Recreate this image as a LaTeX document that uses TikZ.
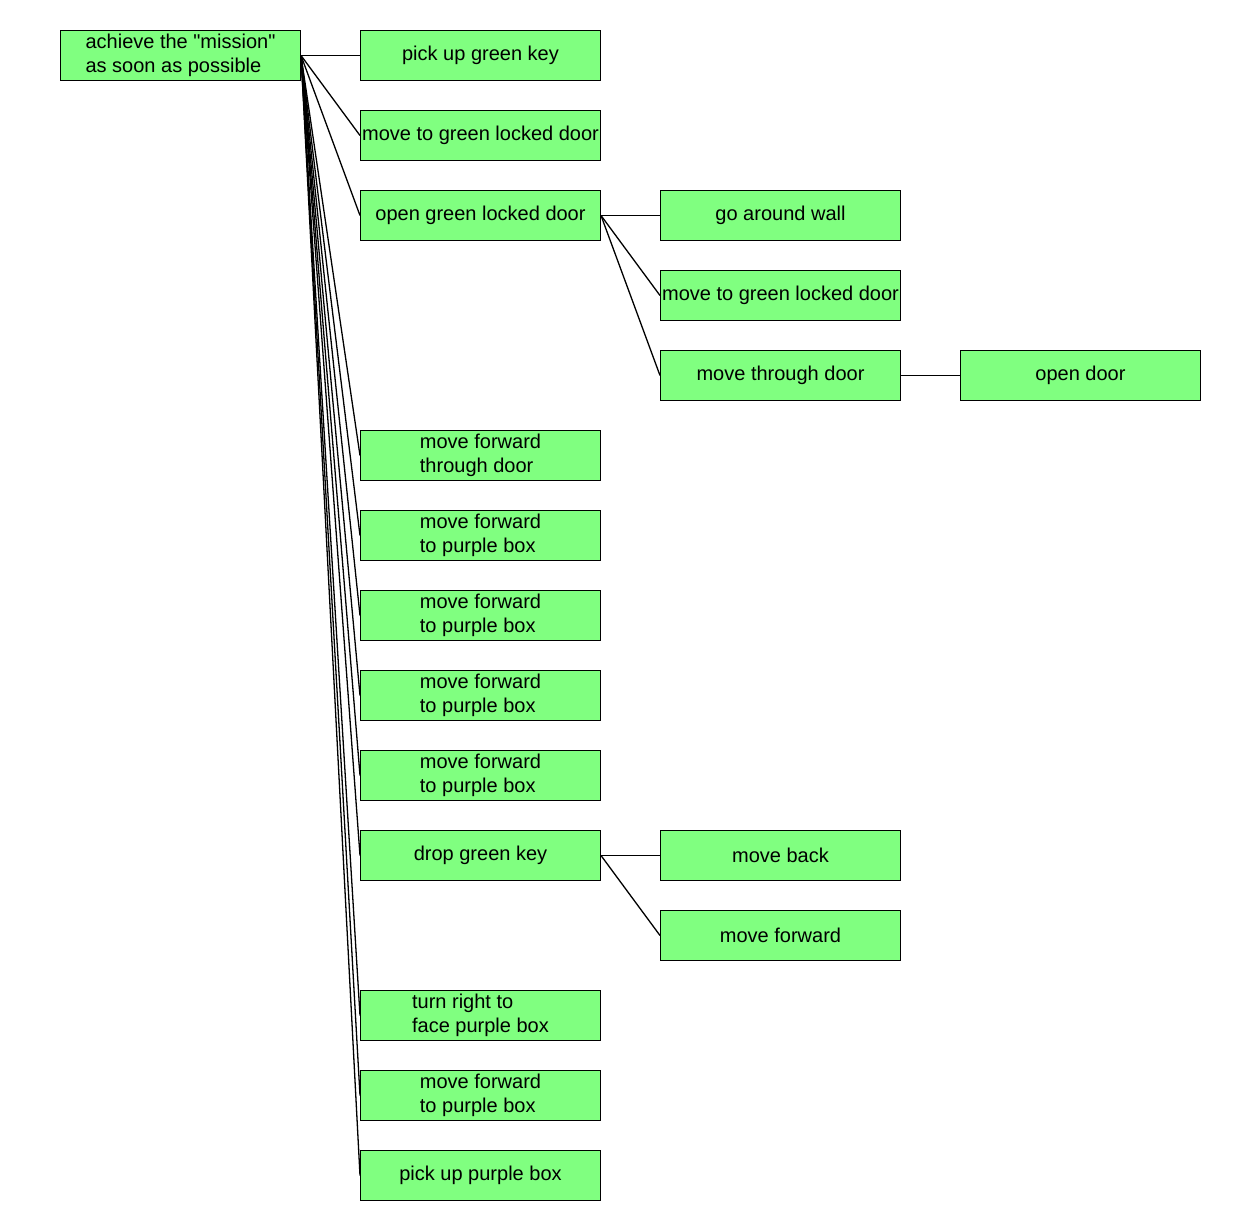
\documentclass[tikz,border=0pt]{standalone}
\usepackage{fontspec}
\setmainfont{Liberation Sans}[Ligatures=TeXOff]
\begin{document}
\begin{tikzpicture}[x=1pt,y=-1pt,
  task/.style={draw=black,line width=1pt,fill=taskgreen,minimum width=240pt,minimum height=50pt,
    inner sep=0pt,anchor=north west,align=left,font=\fontsize{20}{24}\selectfont},
  link/.style={draw=black,line width=1.3pt}]
\definecolor{taskgreen}{HTML}{80FF80}
\useasboundingbox (0,0) rectangle (1260,1230);
% root goal
\node[task] (root) at (60,30) {achieve the "mission"\\as soon as possible};
% first level
\node[task] (a1) at (360,30) {pick up green key};
\node[task] (a2) at (360,110) {move to green locked door};
\node[task] (a3) at (360,190) {open green locked door};
\node[task] (a4) at (360,430) {move forward\\through door};
\node[task] (a5) at (360,510) {move forward\\to purple box};
\node[task] (a6) at (360,590) {move forward\\to purple box};
\node[task] (a7) at (360,670) {move forward\\to purple box};
\node[task] (a8) at (360,750) {move forward\\to purple box};
\node[task] (a9) at (360,830) {drop green key};
\node[task] (a10) at (360,990) {turn right to\\face purple box};
\node[task] (a11) at (360,1070) {move forward\\to purple box};
\node[task] (a12) at (360,1150) {pick up purple box};
% second level
\node[task] (b1) at (660,190) {go around wall};
\node[task] (b2) at (660,270) {move to green locked door};
\node[task] (b3) at (660,350) {move through door};
\node[task] (c1) at (660,830) {move back};
\node[task] (c2) at (660,910) {move forward};
% third level
\node[task] (d1) at (960,350) {open door};
% connectors
\foreach \n in {a1,a2,a3,a4,a5,a6,a7,a8,a9,a10,a11,a12}
  \draw[link] (root.east) -- (\n.west);
\foreach \n in {b1,b2,b3}
  \draw[link] (a3.east) -- (\n.west);
\foreach \n in {c1,c2}
  \draw[link] (a9.east) -- (\n.west);
\draw[link] (b3.east) -- (d1.west);
\end{tikzpicture}
\end{document}
